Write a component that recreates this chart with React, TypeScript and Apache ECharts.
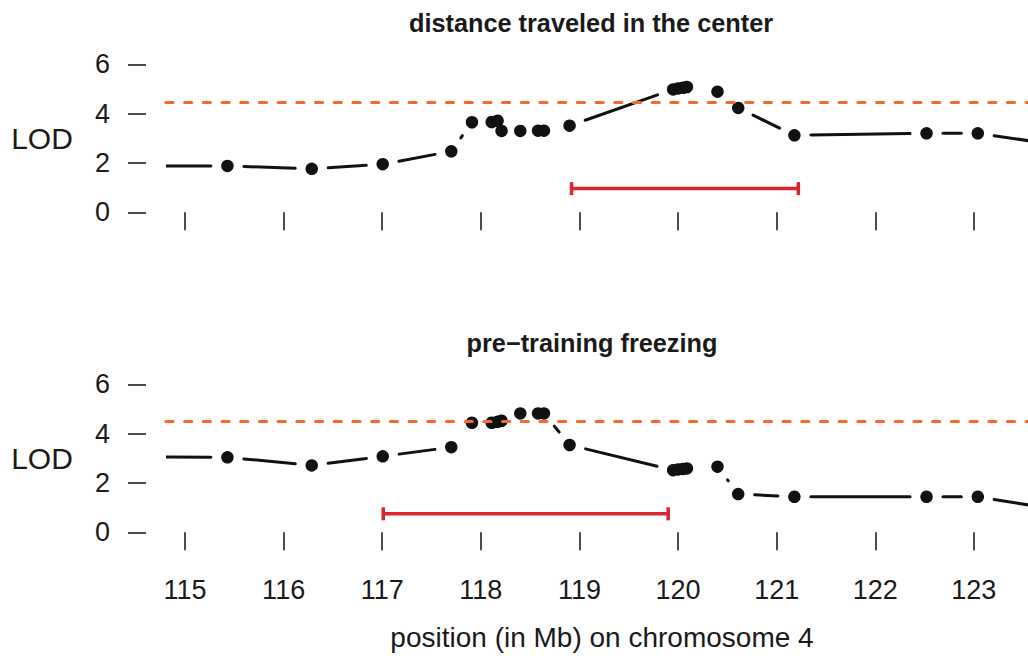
import React, { useEffect, useRef } from "react";
import * as echarts from "echarts";

// marker positions (Mb) shared by both scans; first and last lie beyond the plotted window
const positions = [114.6, 115.43, 116.285, 117.005, 117.7, 117.91, 118.11, 118.17, 118.21, 118.4, 118.58, 118.64, 118.9, 119.95, 120.0, 120.05, 120.09, 120.4, 120.61, 121.18, 122.52, 123.04, 123.8];
const lodCenter = [1.87, 1.88, 1.76, 1.95, 2.47, 3.65, 3.66, 3.71, 3.3, 3.3, 3.31, 3.31, 3.51, 4.98, 5.02, 5.05, 5.08, 4.89, 4.23, 3.12, 3.2, 3.2, 2.76];
const lodFreezing = [3.06, 3.04, 2.71, 3.08, 3.45, 4.44, 4.44, 4.48, 4.52, 4.82, 4.82, 4.82, 3.54, 2.52, 2.55, 2.57, 2.59, 2.66, 1.55, 1.44, 1.44, 1.44, 0.95];
const thresholds = [4.46, 4.51];
const intervalCenter = [118.92, 121.22, 0.96];
const intervalFreezing = [117.01, 119.9, 0.75];
const xTicks = [115, 116, 117, 118, 119, 120, 121, 122, 123];
const yTicks = [0, 2, 4, 6];
const titles = ["distance traveled in the center", "pre\u2212training freezing"];
const xName = "position (in Mb) on chromosome 4";
const yName = "LOD";

const FONT = "'Liberation Sans', Arial, Helvetica, sans-serif";
const INK = "#111111";
const ORANGE = "#f26a2e";
const RED = "#d7262e";
const GAP = 16.5;

export default function App() {
  const ref = useRef<HTMLDivElement>(null);
  useEffect(() => {
    if (!ref.current) return;
    const chart = echarts.init(ref.current, undefined, { renderer: "svg" });
    const panels = [
      { lod: lodCenter, thr: thresholds[0], ci: intervalCenter, top: 32.7, labels: false },
      { lod: lodFreezing, thr: thresholds[1], ci: intervalFreezing, top: 352.7, labels: true },
    ];
    const grids: any[] = [];
    const xAxes: any[] = [];
    const yAxes: any[] = [];
    const series: any[] = [];
    panels.forEach((p, i) => {
      grids.push({ left: 166, width: 862, top: p.top, height: 186.5 });
      xAxes.push({
        type: "value", gridIndex: i, min: 114.807, max: 123.549,
        axisLine: { show: false },
        splitLine: { show: false },
        axisTick: { show: true, length: 18, customValues: xTicks, lineStyle: { color: INK, width: 1.5 } },
        axisLabel: { show: p.labels, customValues: xTicks, margin: 37, color: "#1a1a1a", fontSize: 27, fontFamily: FONT },
      });
      yAxes.push({
        type: "value", gridIndex: i, min: -0.28, max: 7.28, offset: 20,
        axisLine: { show: false },
        splitLine: { show: false },
        axisTick: { show: true, length: 18, customValues: yTicks, lineStyle: { color: INK, width: 1.5 } },
        axisLabel: { show: true, customValues: yTicks, margin: 36, color: "#1a1a1a", fontSize: 27, fontFamily: FONT },
      });
      const pts = positions.map((x, k) => [x, p.lod[k]]);
      const segs = positions.slice(0, -1).map((x, k) => [x, p.lod[k], positions[k + 1], p.lod[k + 1]]);
      series.push({
        type: "line", xAxisIndex: i, yAxisIndex: i, data: [], z: 1, silent: true,
        markLine: {
          silent: true, symbol: ["none", "none"], label: { show: false },
          lineStyle: { color: ORANGE, width: 3.2, type: [7, 11.7], cap: "round", opacity: 1 },
          data: [{ yAxis: p.thr }],
        },
      });
      series.push({
        type: "custom", xAxisIndex: i, yAxisIndex: i, z: 2, clip: true, silent: true,
        encode: { x: [0, 2], y: [1, 3] },
        data: segs,
        renderItem: (params: any, api: any) => {
          const a = api.coord([api.value(0), api.value(1)]);
          const b = api.coord([api.value(2), api.value(3)]);
          const dx = b[0] - a[0], dy = b[1] - a[1];
          const d = Math.hypot(dx, dy);
          if (d <= 2 * GAP) return { type: "group", children: [] };
          const ux = dx / d, uy = dy / d;
          return {
            type: "line",
            shape: { x1: a[0] + ux * GAP, y1: a[1] + uy * GAP, x2: b[0] - ux * GAP, y2: b[1] - uy * GAP },
            style: { stroke: INK, lineWidth: 3, lineCap: "round" },
          };
        },
      });
      series.push({
        type: "scatter", xAxisIndex: i, yAxisIndex: i, z: 3, clip: true, silent: true,
        symbol: "circle", symbolSize: 12.5, itemStyle: { color: INK, opacity: 1 },
        data: pts,
      });
      series.push({
        type: "custom", xAxisIndex: i, yAxisIndex: i, z: 2, silent: true,
        encode: { x: [0, 1], y: 2 },
        data: [p.ci],
        renderItem: (params: any, api: any) => {
          const a = api.coord([api.value(0), api.value(2)]);
          const b = api.coord([api.value(1), api.value(2)]);
          const st = { stroke: RED, lineWidth: 3.5 };
          return {
            type: "group",
            children: [
              { type: "line", shape: { x1: a[0], y1: a[1], x2: b[0], y2: b[1] }, style: st },
              { type: "line", shape: { x1: a[0], y1: a[1] - 6.5, x2: a[0], y2: a[1] + 6.5 }, style: st },
              { type: "line", shape: { x1: b[0], y1: b[1] - 6.5, x2: b[0], y2: b[1] + 6.5 }, style: st },
            ],
          };
        },
      });
    });
    const textStyle = (text: string, size: number, weight: string) => ({
      text, fill: "#1a1a1a", fontSize: size, fontFamily: FONT, fontWeight: weight,
      textAlign: "center", textVerticalAlign: "middle",
    });
    chart.setOption({
      animation: false,
      backgroundColor: "#ffffff",
      grid: grids,
      xAxis: xAxes,
      yAxis: yAxes,
      series,
      graphic: [
        { type: "text", x: 591, y: 22.5, style: textStyle(titles[0], 25.3, "bold") },
        { type: "text", x: 592, y: 342.5, style: textStyle(titles[1], 25.3, "bold") },
        { type: "text", x: 42, y: 138, style: textStyle(yName, 30, "normal") },
        { type: "text", x: 42, y: 458, style: textStyle(yName, 30, "normal") },
        { type: "text", x: 602, y: 637, style: textStyle(xName, 28, "normal") },
      ],
    });
    return () => chart.dispose();
  }, []);
  return <div ref={ref} style={{ position: "absolute", left: 0, top: 0, width: 1028, height: 656 }} />;
}
